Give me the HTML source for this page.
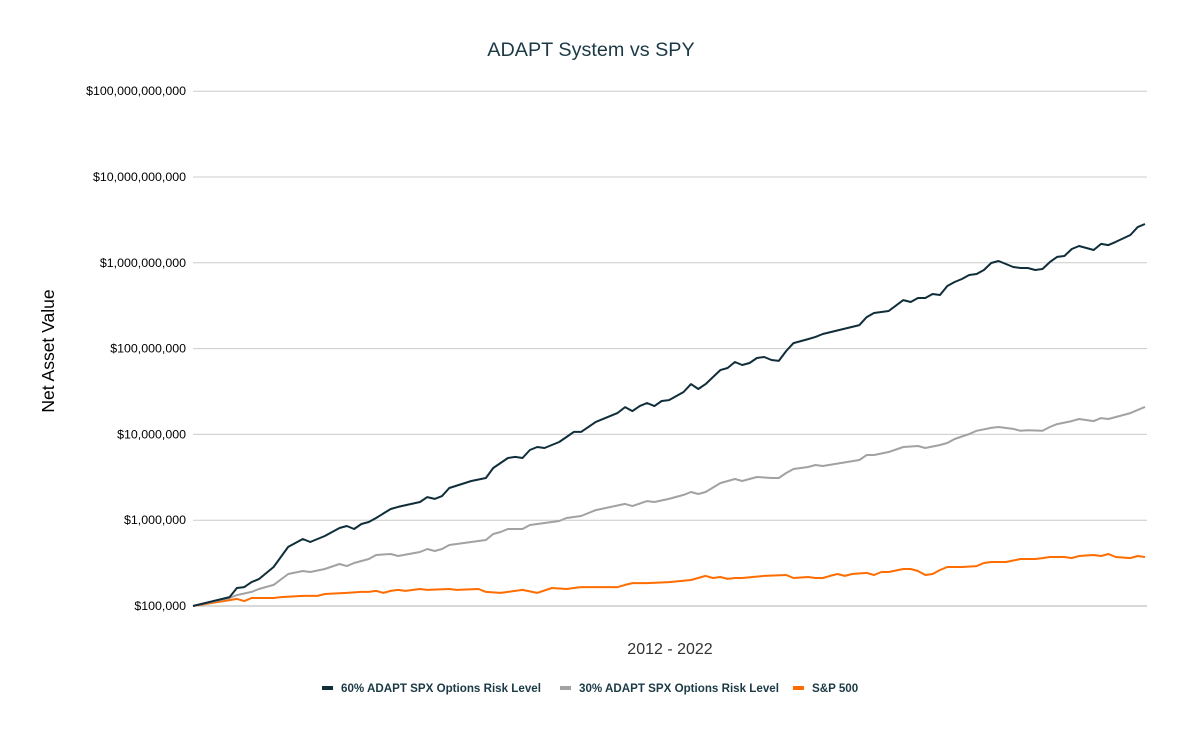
<!DOCTYPE html>
<html><head><meta charset="utf-8"><style>
body{margin:0;background:#fff;}
svg{display:block;font-family:"Liberation Sans",Arial,sans-serif;}
</style></head><body>
<svg id="chart" width="1184" height="733" viewBox="0 0 1184 733">
<rect width="1184" height="733" fill="#fff"/>
<text x="591" y="56" text-anchor="middle" font-size="19.8" fill="#1b3a45">ADAPT System vs SPY</text>
<text transform="translate(54,351) rotate(-90)" text-anchor="middle" font-size="17.5" fill="#000">Net Asset Value</text>
<text x="670" y="654" text-anchor="middle" font-size="16" fill="#333">2012 - 2022</text>
<g id="grid"></g>
<g id="series"></g>
<g>
<g><rect x="322" y="686" width="11" height="4" fill="#0f2e3a"/><text x="341" y="692" font-size="11.6" font-weight="bold" fill="#1b3a45">60% ADAPT SPX Options Risk Level</text></g>
<g><rect x="560" y="686" width="11" height="4" fill="#a2a2a2"/><text x="579" y="692" font-size="11.6" font-weight="bold" fill="#1b3a45">30% ADAPT SPX Options Risk Level</text></g>
<g><rect x="793" y="686" width="11" height="4" fill="#ff6d01"/><text x="812" y="692" font-size="11.6" font-weight="bold" fill="#1b3a45">S&amp;P 500</text></g>
</g>
</svg>
<script>
const tickValues=[1e5,1e6,1e7,1e8,1e9,1e10,1e11];
const tickLabels=["$100,000","$1,000,000","$10,000,000","$100,000,000","$1,000,000,000","$10,000,000,000","$100,000,000,000"];
const monthsA=[0,5,6,7,8,9,11,13,15,16,18,20,21,22,23,24,25,27,28,31,32,33,34,35,38,40,41,42,43,44,45,46,47,48,50,51,52,53,55,58,59,60,61,62,63,64,65,67,68,69,70,72,73,74,75,76,77,78,79,80,81,82,84,85,86,91,92,93,95,97,98,99,100,101,102,103,104,105,106,107,108,109,110,111,112,113,114,115,116,117,118,119,120,121,123,124,125,126,128,129,130];
const valuesA=[1e5,127e3,162e3,166e3,190e3,206e3,285e3,488e3,604e3,557e3,655e3,811e3,856e3,789e3,903e3,953e3,1.06e6,1.35e6,1.43e6,1.63e6,1.86e6,1.77e6,1.91e6,2.37e6,2.86e6,3.1e6,4.06e6,4.64e6,5.31e6,5.46e6,5.31e6,6.58e6,7.13e6,6.94e6,8.15e6,9.33e6,10.7e6,10.7e6,14e6,17.8e6,20.8e6,18.7e6,21.4e6,23.2e6,21.4e6,24.5e6,25.1e6,31.2e6,38.6e6,33.8e6,38.6e6,56.2e6,59.4e6,69.8e6,64.4e6,68e6,77.6e6,79.8e6,73.6e6,71.8e6,93.8e6,116e6,129e6,137e6,148e6,188e6,233e6,260e6,274e6,368e6,349e6,389e6,389e6,433e6,421e6,537e6,597e6,647e6,721e6,740e6,824e6,995e6,1.05e9,968e6,893e6,870e6,869e6,824e6,847e6,1.02e9,1.17e9,1.2e9,1.45e9,1.57e9,1.41e9,1.66e9,1.61e9,1.75e9,2.11e9,2.61e9,2.83e9];
const monthsB=[0,5,6,8,9,11,13,15,16,18,20,21,22,24,25,27,28,31,32,33,34,35,40,41,42,43,45,46,48,50,51,53,55,59,60,62,63,65,67,68,69,70,72,74,75,77,79,80,81,82,84,85,86,91,92,93,95,97,99,100,102,103,104,106,107,109,110,112,113,114,116,117,118,120,121,123,124,125,128,130];
const valuesB=[1e5,124e3,134e3,146e3,158e3,176e3,236e3,256e3,249e3,270e3,309e3,292e3,317e3,353e3,393e3,404e3,383e3,426e3,462e3,438e3,462e3,514e3,588e3,690e3,728e3,789e3,789e3,879e3,927e3,979e3,1.06e6,1.12e6,1.31e6,1.55e6,1.46e6,1.67e6,1.63e6,1.77e6,1.97e6,2.13e6,2.02e6,2.13e6,2.71e6,3.02e6,2.86e6,3.19e6,3.1e6,3.1e6,3.55e6,3.95e6,4.17e6,4.4e6,4.28e6,5.03e6,5.75e6,5.75e6,6.24e6,7.13e6,7.33e6,6.94e6,7.52e6,7.94e6,8.83e6,10.1e6,11e6,11.9e6,12.2e6,11.6e6,11e6,11.2e6,11e6,12.2e6,13.2e6,14.3e6,15.1e6,14.3e6,15.5e6,15.1e6,17.7e6,20.9e6];
const monthsC=[0,5,6,7,8,11,12,15,17,18,21,23,24,25,26,27,28,29,31,32,35,36,39,40,42,45,47,49,51,52,53,58,59,60,62,65,68,70,71,72,73,74,75,78,81,82,84,85,86,87,88,89,90,92,93,94,95,97,98,99,100,101,102,103,105,107,108,109,111,113,115,116,117,119,120,121,123,124,125,126,128,129,130];
const valuesC=[1e5,117e3,121e3,114e3,124e3,124e3,127e3,131e3,131e3,138e3,142e3,146e3,146e3,150e3,142e3,150e3,154e3,150e3,158e3,154e3,158e3,154e3,158e3,146e3,142e3,154e3,142e3,162e3,158e3,162e3,166e3,166e3,176e3,185e3,185e3,190e3,201e3,224e3,212e3,218e3,207e3,212e3,212e3,224e3,230e3,212e3,218e3,212e3,212e3,224e3,236e3,224e3,236e3,243e3,230e3,249e3,249e3,270e3,270e3,256e3,230e3,236e3,263e3,285e3,285e3,292e3,317e3,326e3,326e3,353e3,353e3,362e3,372e3,372e3,362e3,383e3,393e3,383e3,404e3,372e3,362e3,383e3,372e3];

const X0=193,X1=1145,MMAX=130,Y0=606,DEC=85.8;
function xs(m){return X0+m/MMAX*(X1-X0);}
function ys(v){return Y0-(Math.log10(v)-5)*DEC;}
const NS="http://www.w3.org/2000/svg";
const grid=document.getElementById('grid');
tickValues.forEach((v,i)=>{
  const l=document.createElementNS(NS,'line');
  l.setAttribute('x1',X0);l.setAttribute('x2',1147);
  l.setAttribute('y1',ys(v));l.setAttribute('y2',ys(v));
  l.setAttribute('stroke',i===0?'#b0b0b0':'#cccccc');l.setAttribute('stroke-width','1');
  
  
  grid.appendChild(l);
  const t=document.createElementNS(NS,'text');
  t.setAttribute('x',186);t.setAttribute('y',ys(v)+4);
  t.setAttribute('text-anchor','end');t.setAttribute('font-size','12.4');t.setAttribute('fill','#000');
  t.textContent=tickLabels[i];
  
  
  grid.appendChild(t);
});
const sg=document.getElementById('series');
function draw(ms,vs,color,name){
  const p=document.createElementNS(NS,'polyline');
  p.setAttribute('points',ms.map((m,i)=>xs(m).toFixed(1)+','+ys(vs[i]).toFixed(1)).join(' '));
  p.setAttribute('fill','none');p.setAttribute('stroke',color);p.setAttribute('stroke-width','2');
  p.setAttribute('stroke-linejoin','round');
  
  
  sg.appendChild(p);
}
draw(monthsC,valuesC,'#ff6d01','sp500-line');
draw(monthsB,valuesB,'#a2a2a2','adapt-30-line');
draw(monthsA,valuesA,'#0f2e3a','adapt-60-line');
</script>
</body></html>
